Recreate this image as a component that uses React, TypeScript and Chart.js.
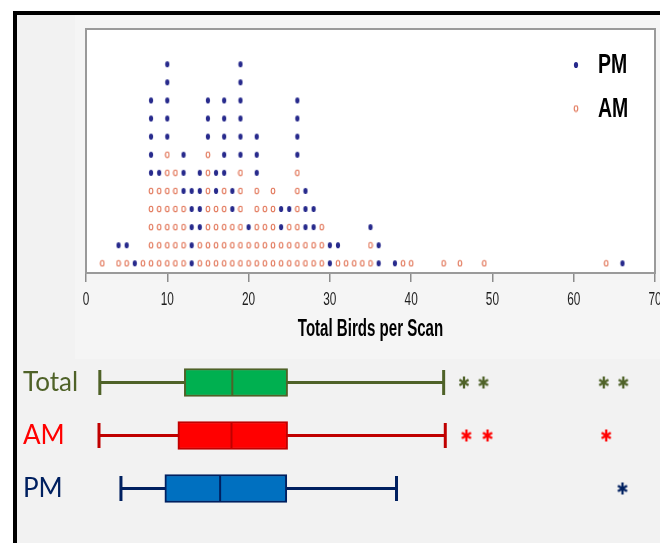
import React, { useEffect, useRef } from "react";
import { Chart, registerables } from "chart.js";

Chart.register(...registerables);

// ---------- Dot plot data ----------
// Each value of "Total Birds per Scan" that has dots, and the stack of symbols
// in that column from bottom to top (A = AM, P = PM).
const scanValues = [
  2, 4, 5, 6, 7, 8, 9, 10, 11, 12, 13, 14, 15, 16, 17, 18, 19, 20, 21, 22, 23,
  24, 25, 26, 27, 28, 29, 30, 31, 32, 33, 34, 35, 36, 38, 39, 40, 44, 46, 49,
  64, 66,
];
const scanStacks = [
  "A", "AP", "AP", "P", "A", "AAAAAPPPPP", "AAAAAP", "AAAAAAAPPPPP", "AAAAAA",
  "AAAAPPP", "PPPPP", "AAPPPP", "AAAAAAAPPP", "AAAAPP", "AAAAAPPPPP", "AAAPP",
  "AAAAAAPPPPPP", "AAP", "AAAAAPPP", "AAAA", "AAAAA", "AAPP", "AAAP",
  "AAAAAAPPPP", "AAPPP", "AAPP", "AAA", "PP", "AP", "A", "A", "A", "AAP", "PP",
  "P", "A", "A", "A", "A", "A", "A", "P",
];
const xMin = 0;
const xMax = 70;
const xStep = 10;
const xAxisTitle = "Total Birds per Scan";
const legendLabels = ["PM", "AM"];

// ---------- Box plot data ----------
const boxGroups = ["Total", "AM", "PM"];
const boxMin = [1.7, 1.6, 4.3];
const boxQ1 = [12.1, 11.3, 9.7];
const boxMedian = [18.0, 17.9, 16.5];
const boxQ3 = [24.8, 24.8, 24.7];
const boxMax = [44.0, 44.2, 38.2];
const outliersTotal = [46.5, 48.9, 63.7, 66.1];
const outliersAM = [46.8, 49.4, 64.0];
const outliersPM = [66.0];

// ---------- Styles ----------
const PM_DOT = "#272a8c";
const AM_DOT = "#e2775a";
const BOX_FILL = ["#00b050", "#ff0000", "#0070c0"];
const BOX_EDGE = ["#4f6228", "#c00000", "#002060"];
const LABEL_COLORS = ["#4f6228", "#ff0000", "#002060"];
const STAR_COLORS = ["#4f6228", "#ff0000", "#002060"];

function ellipseImage(fill: string | null, stroke: string | null) {
  const c = document.createElement("canvas");
  c.width = 6;
  c.height = 8;
  const g = c.getContext("2d")!;
  g.beginPath();
  if (fill) {
    g.ellipse(3, 4, 2.1, 3.1, 0, 0, Math.PI * 2);
    g.fillStyle = fill;
    g.fill();
  } else if (stroke) {
    g.ellipse(3, 4, 1.8, 2.8, 0, 0, Math.PI * 2);
    g.strokeStyle = stroke;
    g.lineWidth = 1.1;
    g.stroke();
  }
  return c;
}

function asteriskImage(color: string) {
  const c = document.createElement("canvas");
  c.width = 14;
  c.height = 16;
  const g = c.getContext("2d")!;
  g.strokeStyle = color;
  g.lineWidth = 2.3;
  const cx = 7;
  const cy = 8;
  g.beginPath();
  g.moveTo(cx, cy - 6);
  g.lineTo(cx, cy + 6);
  for (const a of [30, 150]) {
    const r = (a * Math.PI) / 180;
    const L = 5.3;
    g.moveTo(cx - Math.cos(r) * L, cy - Math.sin(r) * L);
    g.lineTo(cx + Math.cos(r) * L, cy + Math.sin(r) * L);
  }
  g.stroke();
  return c;
}

function squishText(
  ctx: CanvasRenderingContext2D,
  text: string,
  x: number,
  y: number,
  font: string,
  sx: number,
  align: CanvasTextAlign,
  color: string
) {
  ctx.save();
  ctx.translate(x, y);
  ctx.scale(sx, 1);
  ctx.font = font;
  ctx.textAlign = align;
  ctx.textBaseline = "alphabetic";
  ctx.fillStyle = color;
  ctx.fillText(text, 0, 0);
  ctx.restore();
}

export default function App() {
  const dotRef = useRef<HTMLCanvasElement>(null);
  const boxRef = useRef<HTMLCanvasElement>(null);

  useEffect(() => {
    const pmImg = ellipseImage(PM_DOT, null);
    const amImg = ellipseImage(null, AM_DOT);

    const pmPts: { x: number; y: number }[] = [];
    const amPts: { x: number; y: number }[] = [];
    scanValues.forEach((v, i) => {
      scanStacks[i].split("").forEach((s, k) => {
        (s === "P" ? pmPts : amPts).push({ x: v, y: k + 1 });
      });
    });

    const dotPlugin = {
      id: "dotFrame",
      beforeDraw(chart: any) {
        const { ctx, chartArea: a } = chart;
        ctx.save();
        ctx.fillStyle = "#ffffff";
        ctx.fillRect(a.left, a.top, a.right - a.left, a.bottom - a.top);
        ctx.restore();
      },
      afterDraw(chart: any) {
        const { ctx, chartArea: a } = chart;
        const xs = chart.scales.x;
        ctx.save();
        ctx.strokeStyle = "#9a9a9a";
        ctx.lineWidth = 2;
        ctx.strokeRect(a.left, a.top, a.right - a.left, a.bottom - a.top);
        xs.ticks.forEach((t: any) => {
          squishText(
            ctx,
            String(t.value),
            xs.getPixelForValue(t.value),
            a.bottom + 32,
            '18.5px "Liberation Sans", Arial, sans-serif',
            0.64,
            "center",
            "#1e1e1e"
          );
        });
        squishText(
          ctx,
          xAxisTitle,
          (a.left + a.right) / 2,
          a.bottom + 63,
          'bold 23px "Liberation Sans", Arial, sans-serif',
          0.655,
          "center",
          "#000000"
        );
        // legend
        const lx = a.right - 79;
        const imgs = [pmImg, amImg];
        legendLabels.forEach((lab, i) => {
          const cy = a.top + 36 + i * 43.5;
          ctx.drawImage(imgs[i], lx - 3, cy - 4);
          squishText(
            ctx,
            lab,
            lx + 22,
            cy + 8,
            'bold 27px "Liberation Sans", Arial, sans-serif',
            0.72,
            "left",
            "#000000"
          );
        });
        ctx.restore();
      },
    };

    const c1 = new Chart(dotRef.current!, {
      type: "scatter",
      data: {
        datasets: [
          { label: "PM", data: pmPts, pointStyle: pmImg as any, pointRadius: 3 },
          { label: "AM", data: amPts, pointStyle: amImg as any, pointRadius: 3 },
        ],
      },
      options: {
        responsive: false,
        animation: false,
        events: [],
        layout: { autoPadding: false, padding: { left: 86, right: 5, top: 29, bottom: 0 } },
        plugins: { legend: { display: false }, tooltip: { enabled: false } },
        scales: {
          x: {
            type: "linear",
            min: xMin,
            max: xMax,
            ticks: { stepSize: xStep, display: false },
            grid: {
              drawOnChartArea: false,
              drawTicks: true,
              tickLength: 9,
              color: "#8c8c8c",
              lineWidth: 1.5,
            },
            border: { display: false },
            afterFit: (s: any) => {
              s.height = 87;
            },
          },
          y: { type: "linear", min: 0.464, max: 13.944, display: false },
        },
      } as any,
      plugins: [dotPlugin],
    });

    const outlierSets = [outliersTotal, outliersAM, outliersPM];
    const starImgs = STAR_COLORS.map((c) => asteriskImage(c));
    const outPts: any[] = [];
    const outStyles: any[] = [];
    outlierSets.forEach((arr, i) =>
      arr.forEach((v) => {
        outPts.push({ x: v, y: boxGroups[i] });
        outStyles.push(starImgs[i]);
      })
    );
    const capPts: any[] = [];
    const capColors: string[] = [];
    boxGroups.forEach((g, i) => {
      capPts.push({ x: boxMin[i], y: g }, { x: boxMax[i], y: g });
      capColors.push(BOX_EDGE[i], BOX_EDGE[i]);
    });

    const whiskers = boxGroups.map((g, i) => ({
      type: "line",
      data: [
        { x: boxMin[i], y: g },
        { x: boxMax[i], y: g },
      ],
      borderColor: BOX_EDGE[i],
      borderWidth: 3,
      pointRadius: 0,
      fill: false,
    }));

    const c2 = new Chart(boxRef.current!, {
      type: "bar",
      data: {
        labels: boxGroups,
        datasets: [
          {
            type: "scatter",
            data: boxGroups.map((g, i) => ({ x: boxMedian[i], y: g })),
            pointStyle: "line",
            pointRotation: 90,
            pointRadius: 13,
            pointBorderWidth: 2,
            pointBorderColor: BOX_EDGE,
          },
          {
            type: "bar",
            data: boxGroups.map((g, i) => [boxQ1[i], boxQ3[i]]),
            backgroundColor: BOX_FILL,
            borderColor: BOX_EDGE,
            borderWidth: 2,
            borderSkipped: false,
            barThickness: 28,
          },
          {
            type: "scatter",
            data: outPts,
            pointStyle: outStyles,
            pointRadius: 5,
          },
          {
            type: "scatter",
            data: capPts,
            pointStyle: "line",
            pointRotation: 90,
            pointRadius: 12.5,
            pointBorderWidth: 3,
            pointBorderColor: capColors,
          },
          ...whiskers,
        ] as any,
      },
      options: {
        responsive: false,
        animation: false,
        events: [],
        indexAxis: "y",
        layout: { autoPadding: false, padding: { left: 23, right: 5, top: 6, bottom: 28 } },
        plugins: { legend: { display: false }, tooltip: { enabled: false } },
        scales: {
          x: { type: "linear", min: xMin, max: xMax, display: false },
          y: {
            type: "category",
            offset: true,
            grid: { display: false },
            border: { display: false },
            ticks: {
              crossAlign: "far",
              padding: 0,
              color: (c: any) => LABEL_COLORS[c.index],
              font: { family: "Lato, 'Open Sans', sans-serif", size: 26 },
            },
            afterFit: (s: any) => {
              s.width = 63;
              s.paddingTop = 0;
              s.paddingBottom = 0;
            },
          },
        },
      } as any,
    });

    return () => {
      c1.destroy();
      c2.destroy();
    };
  }, []);

  return (
    <div
      style={{
        position: "fixed",
        left: 0,
        top: 0,
        width: 660,
        height: 543,
        background: "#ffffff",
        overflow: "hidden",
      }}
    >
      <div
        style={{
          position: "absolute",
          left: 13,
          top: 11,
          right: 0,
          bottom: 0,
          borderLeft: "4px solid #000",
          borderTop: "4px solid #000",
          background: "#f2f2f2",
        }}
      />
      <div
        style={{
          position: "absolute",
          left: 75,
          top: 15,
          width: 585,
          height: 344,
          background: "#f5f5f5",
        }}
      />
      <canvas
        ref={dotRef}
        width={660}
        height={360}
        style={{ position: "absolute", left: 0, top: 0 }}
      />
      <canvas
        ref={boxRef}
        width={660}
        height={193}
        style={{ position: "absolute", left: 0, top: 350 }}
      />
    </div>
  );
}
